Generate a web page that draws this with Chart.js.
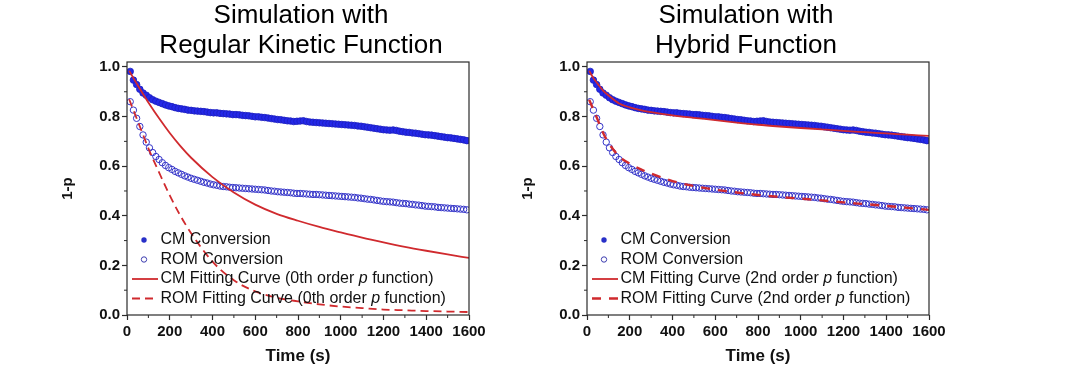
<!DOCTYPE html>
<html>
<head>
<meta charset="utf-8">
<script src="https://cdn.jsdelivr.net/npm/chart.js@4.4.1/dist/chart.umd.min.js"></script>
<style>
  html, body { margin: 0; padding: 0; background: #fff; }
  body { width: 1080px; height: 391px; position: relative; overflow: hidden; }
  .panel { position: absolute; top: 0; width: 480px; height: 391px; }
  #left-panel { left: 20px; }
  #right-panel { left: 480px; }
</style>
</head>
<body>
<div class="panel" id="left-panel"><canvas id="regular-chart"></canvas></div>
<div class="panel" id="right-panel"><canvas id="hybrid-chart"></canvas></div>
<script>
// Measured conversion (same data in both panels)
const times = [
    15, 30, 45, 60, 75, 90, 105, 120, 135, 150,
    165, 180, 195, 210, 225, 240, 255, 270, 285, 300,
    315, 330, 345, 360, 375, 390, 405, 420, 435, 450,
    465, 480, 495, 510, 525, 540, 555, 570, 585, 600,
    615, 630, 645, 660, 675, 690, 705, 720, 735, 750,
    765, 780, 795, 810, 825, 840, 855, 870, 885, 900,
    915, 930, 945, 960, 975, 990, 1005, 1020, 1035, 1050,
    1065, 1080, 1095, 1110, 1125, 1140, 1155, 1170, 1185, 1200,
    1215, 1230, 1245, 1260, 1275, 1290, 1305, 1320, 1335, 1350,
    1365, 1380, 1395, 1410, 1425, 1440, 1455, 1470, 1485, 1500,
    1515, 1530, 1545, 1560, 1575, 1590
];
const cmConversion = [
    0.982, 0.947, 0.929, 0.910, 0.895, 0.886, 0.876, 0.868, 0.862, 0.857,
    0.852, 0.847, 0.843, 0.840, 0.836, 0.833, 0.831, 0.829, 0.826, 0.825,
    0.823, 0.822, 0.821, 0.820, 0.818, 0.816, 0.815, 0.815, 0.813, 0.812,
    0.811, 0.810, 0.808, 0.808, 0.807, 0.805, 0.804, 0.803, 0.801, 0.799,
    0.799, 0.797, 0.796, 0.794, 0.792, 0.790, 0.788, 0.787, 0.785, 0.783,
    0.782, 0.780, 0.781, 0.782, 0.783, 0.780, 0.778, 0.777, 0.776, 0.775,
    0.774, 0.773, 0.772, 0.771, 0.770, 0.769, 0.768, 0.767, 0.766, 0.765,
    0.764, 0.762, 0.761, 0.759, 0.757, 0.755, 0.753, 0.751, 0.749, 0.747,
    0.746, 0.745, 0.746, 0.744, 0.741, 0.739, 0.737, 0.736, 0.734, 0.733,
    0.731, 0.729, 0.727, 0.726, 0.725, 0.723, 0.721, 0.719, 0.717, 0.715,
    0.714, 0.712, 0.710, 0.708, 0.706, 0.703
];
const romConversion = [
    0.860, 0.826, 0.793, 0.760, 0.726, 0.697, 0.674, 0.655, 0.639, 0.627,
    0.614, 0.603, 0.594, 0.587, 0.579, 0.573, 0.567, 0.561, 0.556, 0.551,
    0.547, 0.543, 0.539, 0.535, 0.532, 0.528, 0.525, 0.523, 0.520, 0.518,
    0.517, 0.515, 0.514, 0.513, 0.512, 0.511, 0.510, 0.509, 0.508, 0.507,
    0.506, 0.505, 0.504, 0.502, 0.500, 0.499, 0.497, 0.496, 0.495, 0.494,
    0.493, 0.491, 0.490, 0.490, 0.489, 0.488, 0.487, 0.486, 0.486, 0.485,
    0.484, 0.483, 0.482, 0.481, 0.480, 0.479, 0.478, 0.477, 0.476, 0.475,
    0.474, 0.472, 0.471, 0.469, 0.467, 0.466, 0.464, 0.462, 0.460, 0.458,
    0.457, 0.456, 0.455, 0.453, 0.451, 0.450, 0.449, 0.447, 0.446, 0.444,
    0.443, 0.441, 0.439, 0.438, 0.437, 0.436, 0.434, 0.433, 0.432, 0.431,
    0.430, 0.429, 0.428, 0.427, 0.426, 0.424
];

// Fitting curves
const fitTimes = [10, 30, 50, 75, 100, 150, 200, 250, 300, 400, 500, 600, 700, 800, 900, 1000, 1100, 1200, 1300, 1400, 1500, 1600];
const regularCmFit = [0.985, 0.955, 0.926, 0.891, 0.857, 0.793, 0.734, 0.681, 0.634, 0.556, 0.494, 0.445, 0.408, 0.380, 0.355, 0.333, 0.312, 0.293, 0.275, 0.259, 0.244, 0.230];
const regularRomFit = [0.870, 0.826, 0.782, 0.727, 0.672, 0.575, 0.482, 0.400, 0.330, 0.215, 0.140, 0.095, 0.070, 0.055, 0.043, 0.034, 0.028, 0.022, 0.019, 0.016, 0.014, 0.012];
const hybridCmFit = [0.985, 0.955, 0.932, 0.905, 0.886, 0.853, 0.837, 0.826, 0.818, 0.805, 0.795, 0.786, 0.776, 0.767, 0.760, 0.754, 0.748, 0.742, 0.737, 0.732, 0.727, 0.722];
const hybridRomFit = [0.868, 0.828, 0.787, 0.735, 0.695, 0.640, 0.610, 0.588, 0.570, 0.540, 0.520, 0.505, 0.494, 0.484, 0.476, 0.469, 0.462, 0.454, 0.447, 0.440, 0.432, 0.424];

const legendLabels = ['CM Conversion', 'ROM Conversion', 'CM Fitting Curve', 'ROM Fitting Curve'];

const FONT = '"Liberation Sans", Arial, Helvetica, sans-serif';
const RED = 'rgb(208,42,46)';
const BLUE = 'rgb(36,40,232)';
const AXIS = '#2b2b2b';

const points = (xs, ys) => xs.map((t, i) => ({ x: t, y: ys[i] }));

// Two-line title over the plot
const panelTitle = {
    id: 'panelTitle',
    afterDraw(chart, args, opts) {
        const { ctx, chartArea } = chart;
        const cx = (chartArea.left + chartArea.right) / 2 + opts.dx;
        ctx.save();
        ctx.font = '26px ' + FONT;
        ctx.fillStyle = '#000';
        ctx.textAlign = 'center';
        ctx.textBaseline = 'middle';
        opts.lines.forEach((line, i) => ctx.fillText(line, cx, 16 + i * 30));
        ctx.restore();
    }
};

// Box frame + short minor ticks between the major ones
const frameTicks = {
    id: 'frameTicks',
    afterDatasetsDraw(chart) {
        const { ctx, chartArea: a, scales: { x, y } } = chart;
        ctx.save();
        ctx.strokeStyle = AXIS;
        ctx.lineWidth = 1.2;
        ctx.strokeRect(a.left, a.top, a.right - a.left, a.bottom - a.top);
        ctx.lineWidth = 1;
        ctx.beginPath();
        for (let i = 1; i < x.ticks.length; i++) {
            const px = x.getPixelForValue((x.ticks[i - 1].value + x.ticks[i].value) / 2);
            ctx.moveTo(px, a.bottom);
            ctx.lineTo(px, a.bottom + 3);
        }
        for (let i = 1; i < y.ticks.length; i++) {
            const py = y.getPixelForValue((y.ticks[i - 1].value + y.ticks[i].value) / 2);
            ctx.moveTo(a.left, py);
            ctx.lineTo(a.left - 3, py);
        }
        ctx.stroke();
        ctx.restore();
    }
};

// Legend inside the plot, bottom left, with italic p
const boxLegend = {
    id: 'boxLegend',
    afterDatasetsDraw(chart, args, opts) {
        const { ctx, chartArea: a } = chart;
        const rowOffset = [75, 55.5, 36, 16.5];
        ctx.save();
        legendLabels.forEach((label, i) => {
            const y = a.bottom - rowOffset[i];
            const mx = a.left + 17;
            ctx.setLineDash([]);
            if (i === 0) {
                ctx.fillStyle = 'rgb(40,48,200)';
                ctx.beginPath();
                ctx.arc(mx, y, 2.7, 0, Math.PI * 2);
                ctx.fill();
            } else if (i === 1) {
                ctx.strokeStyle = 'rgb(60,60,175)';
                ctx.lineWidth = 1;
                ctx.beginPath();
                ctx.arc(mx, y, 2.7, 0, Math.PI * 2);
                ctx.stroke();
            } else {
                ctx.strokeStyle = RED;
                ctx.lineWidth = i === 2 ? 1.8 : opts.dashWidth;
                if (i === 3) ctx.setLineDash(opts.dash);
                ctx.beginPath();
                ctx.moveTo(a.left + 5, y);
                ctx.lineTo(a.left + 31, y);
                ctx.stroke();
            }

            const parts = i < 2
                ? [[label, false]]
                : [[label + ' (' + opts.order + ' order ', false], ['p', true], [' function)', false]];
            let tx = a.left + 33.5;
            ctx.fillStyle = '#111';
            ctx.textBaseline = 'middle';
            ctx.textAlign = 'left';
            parts.forEach(([text, italic]) => {
                ctx.font = (italic ? 'italic ' : '') + '16px ' + FONT;
                ctx.fillText(text, tx, y);
                tx += ctx.measureText(text).width;
            });
        });
        ctx.restore();
    }
};

function makeChart(canvasId, titleLines, titleDx, order, cmFit, romFit, dash, dashWidth) {
    const data = {
        datasets: [
            {
                label: 'CM Fitting Curve',
                data: points(fitTimes, cmFit),
                showLine: true,
                borderColor: RED,
                borderWidth: 1.8,
                pointRadius: 0,
                cubicInterpolationMode: 'monotone',
                order: 0
            },
            {
                label: 'ROM Fitting Curve',
                data: points(fitTimes, romFit),
                showLine: true,
                borderColor: RED,
                borderWidth: dashWidth,
                borderDash: dash,
                pointRadius: 0,
                cubicInterpolationMode: 'monotone',
                order: 0
            },
            {
                label: 'CM Conversion',
                data: points(times, cmConversion),
                pointRadius: 3.3,
                backgroundColor: BLUE,
                borderColor: 'rgb(28,30,190)',
                borderWidth: 0.8,
                order: 1
            },
            {
                label: 'ROM Conversion',
                data: points(times, romConversion),
                pointRadius: 3.2,
                backgroundColor: 'rgba(0,0,0,0)',
                borderColor: 'rgb(52,52,200)',
                borderWidth: 1,
                order: 1
            }
        ]
    };

    const tickFont = { family: FONT, size: 15, weight: 'bold' };
    const options = {
        responsive: true,
        maintainAspectRatio: false,
        animation: false,
        layout: { padding: { top: 62, right: 31, bottom: 0, left: 0 } },
        plugins: {
            legend: { display: false },
            tooltip: { enabled: false },
            panelTitle: { lines: titleLines, dx: titleDx },
            boxLegend: { order: order, dash: dash, dashWidth: dashWidth }
        },
        scales: {
            x: {
                type: 'linear',
                min: 0,
                max: 1600,
                ticks: {
                    stepSize: 200,
                    autoSkip: false,
                    maxRotation: 0,
                    padding: 3,
                    color: '#111',
                    font: tickFont,
                    callback: (v) => String(v)
                },
                grid: { drawOnChartArea: false, tickLength: 5, tickColor: AXIS, tickWidth: 1.2 },
                border: { display: false },
                title: {
                    display: true,
                    text: 'Time (s)',
                    color: '#111',
                    font: { family: FONT, size: 17, weight: 'bold' },
                    padding: { top: 0, bottom: 24 }
                },
                afterFit: (s) => { s.height = 76; }
            },
            y: {
                min: 0,
                max: 1.02,
                ticks: {
                    stepSize: 0.2,
                    includeBounds: false,
                    padding: 2,
                    color: '#111',
                    font: tickFont,
                    callback: (v) => v.toFixed(1)
                },
                grid: { drawOnChartArea: false, tickLength: 5, tickColor: AXIS, tickWidth: 1.2 },
                border: { display: false },
                title: {
                    display: true,
                    text: '1-p',
                    color: '#111',
                    font: { family: FONT, size: 15, weight: 'bold' },
                    padding: { top: 39, bottom: 0 }
                },
                afterFit: (s) => { s.width = 107; }
            }
        }
    };

    return new Chart(document.getElementById(canvasId), {
        type: 'scatter',
        data: data,
        options: options,
        plugins: [frameTicks, boxLegend, panelTitle]
    });
}

makeChart('regular-chart', ['Simulation with', 'Regular Kinetic Function'], 3, '0th',
    regularCmFit, regularRomFit, [8, 5], 1.8);
makeChart('hybrid-chart', ['Simulation with', 'Hybrid Function'], -12, '2nd',
    hybridCmFit, hybridRomFit, [9, 8], 2.4);
</script>
</body>
</html>
